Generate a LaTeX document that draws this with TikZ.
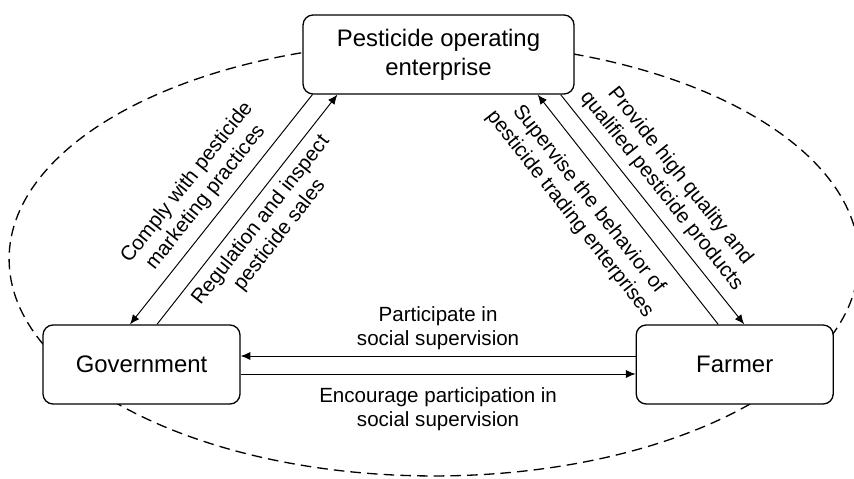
\documentclass[tikz,border=0pt]{standalone}
\usepackage{fontspec}
\setmainfont{Liberation Sans}
\usetikzlibrary{arrows.meta,positioning,shapes}

\begin{document}
\begin{tikzpicture}[->,>={Latex[length=5.5pt,width=4.6pt]},x=0.02cm,y=-0.02cm,line width=0.55pt]
        \tikzstyle{every node}=[font=\fontsize{11.7}{13.6}\selectfont]
        \tikzstyle{actor}=[draw, rounded corners=0.2cm, line width=0.75pt, fill=white, minimum height=1.58cm, align=center, font=\fontsize{13.6}{16.4}\selectfont]
        \tikzstyle{flow}=[align=center, sloped]

        \useasboundingbox (0,0) rectangle (854,479);
        \draw[-, dash pattern=on 6pt off 3.5pt, line width=0.75pt] (434,259) ellipse [x radius=8.5cm, y radius=4.34cm];

        \node[actor, minimum width=5.42cm] (P) at (438.5,54.5)  {Pesticide operating\\enterprise};
        \node[actor, minimum width=3.94cm] (G) at (141.5,364.5) {Government};
        \node[actor, minimum width=3.94cm] (F) [right=7.9cm of G] {Farmer};

        \path ([xshift=0.2cm]P.south west)   edge node[flow, above=2pt] {Comply with pesticide\\marketing practices} ([xshift=-0.23cm]G.north)
              ([xshift=0.31cm]G.north)       edge node[flow, below=1pt] {Regulation and inspect\\pesticide sales} ([xshift=0.7cm]P.south west)
              ([xshift=-0.33cm]F.north)      edge node[flow, below=5pt, pos=0.61] {Supervise the behavior of\\pesticide trading enterprises} ([xshift=-0.74cm]P.south east)
              ([xshift=-0.28cm]P.south east) edge node[flow, above=1.5pt, pos=0.47] {Provide high quality and\\qualified pesticide products} ([xshift=0.19cm]F.north)
              ([yshift=0.17cm]F.west)        edge node[flow, above] {Participate in\\social supervision} ([yshift=0.17cm]G.east)
              ([yshift=-0.19cm]G.east)       edge node[flow, below=4pt] {Encourage participation in\\social supervision} ([yshift=-0.19cm]F.west);
\end{tikzpicture}
\end{document}
